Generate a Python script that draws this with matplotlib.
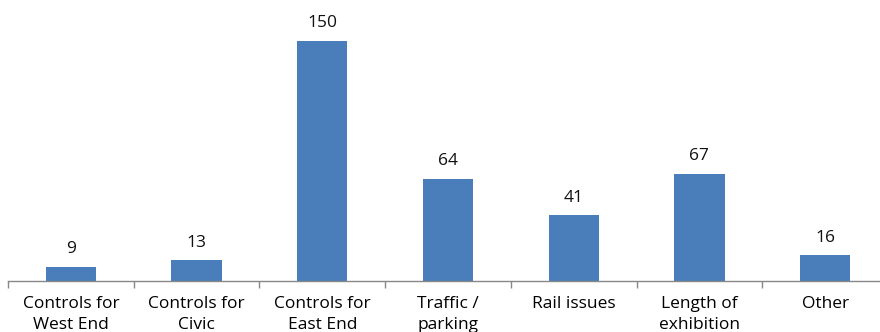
import numpy as np
import matplotlib
matplotlib.use('Agg')
import matplotlib.pyplot as plt

categories = ['Controls for\nWest End', 'Controls for\nCivic', 'Controls for\nEast End',
              'Traffic /\nparking', 'Rail issues', 'Length of\nexhibition', 'Other']
counts = [9, 13, 150, 64, 41, 67, 16]

plt.rcParams['font.family'] = ['Open Sans', 'DejaVu Sans']

fig = plt.figure(figsize=(8.8, 3.32), dpi=100)
ax = fig.add_axes([8 / 880, 51 / 332, 1.0, 272 / 332])
x = np.arange(len(categories))
bars = ax.bar(x, counts, width=0.4, color='#4a7ebb', zorder=2)
for xi, v in zip(x, counts):
    ax.text(xi, v + 6, str(v), ha='center', va='bottom', fontsize=12.5, color='#111111')

ax.set_xlim(-0.5, len(categories) - 0.5)
ax.set_ylim(0, 170)
ax.set_xticks(x)
ax.set_xticklabels(categories, fontsize=12.5, color='#000000', linespacing=1.4)
ax.set_xticks(np.arange(-0.5, len(categories), 1.0), minor=True)
ax.tick_params(axis='x', which='major', length=0, pad=11)
ax.tick_params(axis='x', which='minor', length=5, color='#888888', width=1)
ax.set_yticks([])
for s in ['top', 'right', 'left']:
    ax.spines[s].set_visible(False)
ax.spines['bottom'].set_color('#888888')
ax.spines['bottom'].set_linewidth(1)

fig.savefig('out.png', dpi=100)
